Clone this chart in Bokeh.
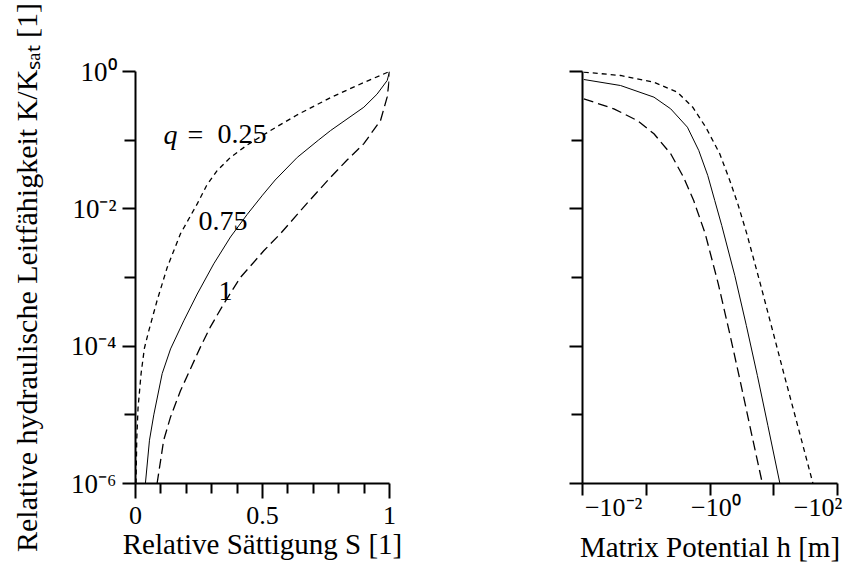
from bokeh.plotting import figure
from bokeh.layouts import row
from bokeh.models import Range1d, FixedTicker, Label
from bokeh.embed import file_html
from bokeh.resources import INLINE
import numpy as np

FONT = "Liberation Serif"
FS_YTICK = "27px"
FS_XTICK = "26px"
FS_YAXIS = "30px"
FS_XAXIS = "29px"
FS_CURVE = "28px"

# ---------- left panel: K/Ksat over relative saturation S ----------
s_q025 = [0.002, 0.005, 0.010, 0.022, 0.035, 0.052, 0.085, 0.125, 0.177, 0.243,
          0.28, 0.32, 0.374, 0.44, 0.545, 0.637, 0.768, 0.899, 1.0]
k_q025 = [1.0e-6, 4.47e-6, 1.26e-5, 3.98e-5, 9.33e-5, 1.66e-4, 4.62e-4, 1.41e-3, 4.33e-3, 1.18e-2,
          2.19e-2, 3.55e-2, 5.62e-2, 8.51e-2, 0.148, 0.234, 0.417, 0.692, 1.0]

s_q075 = [0.039, 0.055, 0.072, 0.105, 0.138, 0.19, 0.243, 0.308, 0.374, 0.44,
          0.50, 0.55, 0.637, 0.72, 0.768, 0.899, 0.951, 0.991, 1.0]
k_q075 = [1.0e-6, 4.27e-6, 1.0e-5, 3.98e-5, 9.12e-5, 2.34e-4, 5.75e-4, 1.58e-3, 3.89e-3, 8.32e-3,
          1.58e-2, 2.63e-2, 5.62e-2, 0.1, 0.138, 0.302, 0.468, 0.741, 1.0]

s_q1 = [0.085, 0.111, 0.138, 0.177, 0.256, 0.295, 0.348, 0.413, 0.505, 0.571,
        0.685, 0.768, 0.833, 0.899, 0.965, 0.991, 0.998, 1.0]
k_q1 = [1.0e-6, 4.27e-6, 9.33e-6, 2.24e-5, 9.77e-5, 1.91e-4, 4.17e-4, 1.0e-3, 2.45e-3, 4.37e-3,
        1.32e-2, 2.88e-2, 5.13e-2, 8.91e-2, 0.195, 0.427, 0.708, 1.0]

# ---------- right panel: K/Ksat over matrix potential h (m, negative) ----------
h_q025 = [-0.0026, -0.01365, -0.0614, -0.1766, -0.3524, -0.6339, -1.191, -1.871, -2.685,
          -4.036, -7.413, -13.40, -21.43, -36.06, -79.43]
kh_q025 = [0.98, 0.875, 0.698, 0.500, 0.302, 0.1545, 0.0634, 0.0259, 0.01183,
           4.32e-3, 8.09e-4, 1.51e-4, 3.96e-5, 9.25e-6, 1.0e-6]

h_q075 = [-0.0026, -0.01365, -0.0614, -0.1306, -0.2773, -0.4624, -0.6934, -0.9506, -1.303,
          -2.344, -3.945, -6.486, -10.40, -17.91]
kh_q075 = [0.765, 0.625, 0.423, 0.286, 0.1545, 0.0708, 0.0306, 0.0132, 5.71e-3,
           1.07e-3, 2.0e-4, 3.74e-5, 7.0e-6, 1.0e-6]

h_q1 = [-0.0026, -0.01009, -0.02904, -0.0614, -0.1306, -0.2344, -0.3681, -0.6194, -1.114,
        -1.871, -3.076, -4.989, -8.128]
kh_q1 = [0.400, 0.286, 0.193, 0.124, 0.0634, 0.0286, 0.0132, 4.33e-3, 8.09e-4,
         1.51e-4, 2.83e-5, 5.30e-6, 1.0e-6]

# ---------- ticks / labels ----------
y_ticks = [1e-6, 1e-4, 1e-2, 1.0]
y_minor = [1e-5, 1e-3, 1e-1]
y_labels = ["10⁻⁶", "10⁻⁴", "10⁻²", "10⁰"]
s_ticks = [0.0, 0.5, 1.0]
s_minor = [0.1, 0.2, 0.3, 0.4, 0.6, 0.7, 0.8, 0.9]
s_labels = ["0", "0.5", "1"]
h_ticks = [0.01, 1.0, 100.0]
h_labels = ["−10⁻²", "−10⁰", "−10²"]
h_lo, h_hi = -2.61, 2.38   # log10 |h| range of right panel

y_title = "Relative hydraulische Leitfähigkeit K/Kₛₐₜ [1]"
s_title = "Relative Sättigung S [1]"
h_title = "Matrix Potential h [m]"
curve_labels = ["q", "=", "0.25", "0.75", "1"]


def style(p):
    p.outline_line_color = None
    p.xgrid.visible = False
    p.ygrid.visible = False
    p.background_fill_color = "white"
    p.border_fill_color = "white"
    for ax, fs_t, fs_a in ((p.xaxis[0], FS_XTICK, FS_XAXIS), (p.yaxis[0], FS_YTICK, FS_YAXIS)):
        ax.axis_line_width = 2
        ax.major_tick_line_width = 2
        ax.minor_tick_line_width = 2
        ax.major_tick_in = 0
        ax.minor_tick_in = 0
        ax.major_label_text_font = FONT
        ax.major_label_text_font_size = fs_t
        ax.major_label_text_color = "black"
        ax.axis_label_text_font = FONT
        ax.axis_label_text_font_size = fs_a
        ax.axis_label_text_font_style = "normal"
        ax.axis_label_text_color = "black"


H = 567
p1 = figure(width=448, height=H, x_range=Range1d(0, 1), y_range=Range1d(1e-6, 1.0),
            y_axis_type="log", output_backend="svg", toolbar_location=None,
            min_border_left=135, min_border_right=59, min_border_top=71, min_border_bottom=84)
style(p1)
p1.line(s_q025, k_q025, line_color="black", line_width=1.3, line_dash="5 4")
p1.line(s_q075, k_q075, line_color="black", line_width=1.0)
p1.line(s_q1, k_q1, line_color="black", line_width=1.3, line_dash="10 5")

p1.yaxis.ticker = FixedTicker(ticks=y_ticks, minor_ticks=y_minor)
p1.yaxis.major_label_overrides = dict(zip(y_ticks, y_labels))
p1.yaxis.major_tick_out = 13
p1.yaxis.minor_tick_out = 11
p1.yaxis.major_label_standoff = 6
p1.yaxis.axis_label = y_title
p1.yaxis.axis_label_standoff = 25

p1.xaxis.ticker = FixedTicker(ticks=s_ticks, minor_ticks=s_minor)
p1.xaxis.major_label_overrides = dict(zip(s_ticks, s_labels))
p1.xaxis.major_tick_out = 15
p1.xaxis.minor_tick_out = 10
p1.xaxis.major_label_standoff = 8
p1.xaxis.axis_label = s_title
p1.xaxis.axis_label_standoff = 1

lab_pos = [(0.110, 0.121), (0.205, 0.121), (0.323, 0.121), (0.248, 6.55e-3), (0.327, 6.46e-4)]
for txt, (lx, ly) in zip(curve_labels, lab_pos):
    p1.add_layout(Label(x=lx, y=ly, text=txt, text_font=FONT, text_font_size=FS_CURVE,
                        text_color="black", text_baseline="alphabetic",
                        text_font_style="italic" if txt == "q" else "normal"))

p2 = figure(width=404, height=H, x_range=Range1d(10 ** h_lo, 10 ** h_hi), y_range=Range1d(1e-6, 1.0),
            x_axis_type="log", y_axis_type="log", output_backend="svg", toolbar_location=None,
            min_border_left=134, min_border_right=15, min_border_top=71, min_border_bottom=84)
style(p2)
p2.line([-v for v in h_q025], kh_q025, line_color="black", line_width=1.3, line_dash="5 4")
p2.line([-v for v in h_q075], kh_q075, line_color="black", line_width=1.0)
p2.line([-v for v in h_q1], kh_q1, line_color="black", line_width=1.3, line_dash="10 5")

p2.yaxis.ticker = FixedTicker(ticks=y_ticks, minor_ticks=y_minor)
p2.yaxis.major_tick_out = 13
p2.yaxis.minor_tick_out = 11
p2.yaxis.major_label_overrides = {t: "" for t in y_ticks}

p2.xaxis.ticker = FixedTicker(ticks=h_ticks, minor_ticks=list(np.logspace(h_lo, h_hi, 5)))
p2.xaxis.major_label_overrides = dict(zip(h_ticks, h_labels))
p2.xaxis.major_tick_out = 0
p2.xaxis.minor_tick_out = 12
p2.xaxis.major_label_standoff = -3
p2.xaxis.axis_label = h_title
p2.xaxis.axis_label_standoff = 6

layout = row(p1, p2)
open("out.html", "w").write(file_html(layout, INLINE))
